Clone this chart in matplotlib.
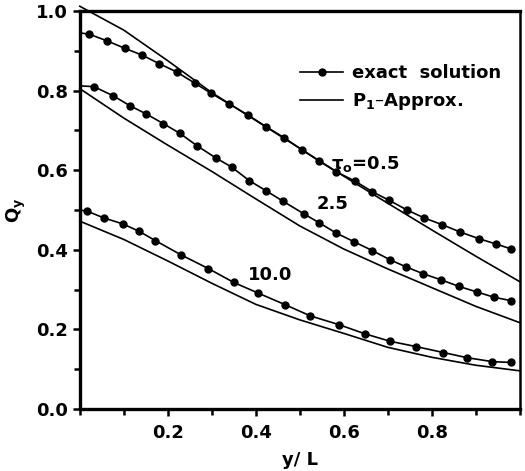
import matplotlib
matplotlib.use("Agg")
import matplotlib.pyplot as plt
from matplotlib.ticker import MultipleLocator, FixedLocator

plt.rcParams['font.family'] = ['DejaVu Sans']
plt.rcParams['font.weight'] = 'bold'
plt.rcParams['mathtext.default'] = 'regular'

# exact solution (first point = line start at wall, no dot)
x_ex05 = [0.0, 0.021, 0.062, 0.103, 0.142, 0.180, 0.220, 0.261, 0.299, 0.339, 0.383, 0.424, 0.464,
          0.504, 0.544, 0.583, 0.625, 0.665, 0.702, 0.744, 0.783, 0.824, 0.864, 0.907, 0.945, 0.981]
y_ex05 = [0.945, 0.942, 0.925, 0.906, 0.889, 0.868, 0.847, 0.819, 0.793, 0.767, 0.738, 0.709, 0.682,
          0.652, 0.623, 0.596, 0.573, 0.546, 0.525, 0.500, 0.480, 0.463, 0.445, 0.428, 0.415, 0.402]

x_ex25 = [0.0, 0.032, 0.076, 0.114, 0.150, 0.190, 0.227, 0.267, 0.309, 0.345, 0.385, 0.424, 0.462,
          0.510, 0.544, 0.583, 0.624, 0.665, 0.705, 0.742, 0.780, 0.820, 0.862, 0.903, 0.941, 0.981]
y_ex25 = [0.812, 0.810, 0.787, 0.762, 0.742, 0.717, 0.693, 0.661, 0.631, 0.608, 0.574, 0.548, 0.522,
          0.490, 0.468, 0.442, 0.420, 0.398, 0.375, 0.357, 0.340, 0.325, 0.308, 0.294, 0.281, 0.272]

x_ex10 = [0.0, 0.017, 0.055, 0.098, 0.134, 0.172, 0.229, 0.292, 0.350, 0.406, 0.467, 0.524, 0.589,
          0.648, 0.706, 0.764, 0.826, 0.880, 0.938, 0.981]
y_ex10 = [0.500, 0.497, 0.480, 0.465, 0.447, 0.423, 0.388, 0.353, 0.318, 0.291, 0.262, 0.234, 0.212,
          0.189, 0.170, 0.157, 0.142, 0.129, 0.119, 0.117]

# P1 approximation
x_p1 = [0.0, 0.1, 0.2, 0.3, 0.4, 0.5, 0.6, 0.7, 0.8, 0.9, 1.0]
y_p1_05 = [1.012, 0.952, 0.875, 0.795, 0.725, 0.655, 0.585, 0.517, 0.450, 0.384, 0.320]
y_p1_25 = [0.805, 0.731, 0.663, 0.597, 0.528, 0.460, 0.402, 0.352, 0.305, 0.258, 0.217]
y_p1_10 = [0.472, 0.426, 0.372, 0.316, 0.263, 0.224, 0.190, 0.155, 0.130, 0.110, 0.096]

curve_labels = [r'$\tau_o$=0.5', '2.5', '10.0']
label_pos = [(0.572, 0.615), (0.539, 0.514), (0.382, 0.337)]

fig = plt.figure(figsize=(5.25, 4.71), dpi=100)
ax = fig.add_axes([0.152, 0.1316, 0.838, 0.845])

lw = 1.2
for xs, ys in [(x_ex05, y_ex05), (x_ex25, y_ex25), (x_ex10, y_ex10)]:
    ax.plot(xs, ys, color='black', lw=lw, marker='o', ms=5, markevery=slice(1, None),
            clip_on=False, zorder=3)
for ys in [y_p1_05, y_p1_25, y_p1_10]:
    ax.plot(x_p1, ys, color='black', lw=lw, clip_on=False, zorder=3)

for lab, (lx, ly) in zip(curve_labels, label_pos):
    ax.text(lx, ly, lab, fontsize=13, fontweight='bold', ha='left', va='center')

ax.plot([], [], color='black', lw=lw, marker='o', ms=5, label='exact  solution')
ax.plot([], [], color='black', lw=lw, label=r'P$_1$–Approx.')
leg = ax.legend(loc='upper left', bbox_to_anchor=(0.48, 0.89), frameon=False,
                handlelength=2.4, handletextpad=0.5, labelspacing=0.5, borderpad=0,
                prop={'weight': 'bold', 'size': 13})

ax.set_xlim(0, 1.0)
ax.set_ylim(0, 1.0)
ax.xaxis.set_major_locator(FixedLocator([0.2, 0.4, 0.6, 0.8]))
ax.xaxis.set_minor_locator(FixedLocator([0.0, 0.1, 0.3, 0.5, 0.7, 0.9, 1.0]))
ax.yaxis.set_major_locator(MultipleLocator(0.2))
ax.yaxis.set_minor_locator(MultipleLocator(0.1))
ax.xaxis.set_major_formatter(plt.FuncFormatter(lambda v, p: f'{v:.1f}'))
ax.yaxis.set_major_formatter(plt.FuncFormatter(lambda v, p: f'{v:.1f}'))
ax.tick_params(which='both', direction='out', width=1.8, labelsize=13)
ax.tick_params(which='major', length=5)
ax.tick_params(which='minor', length=4)
ax.tick_params(axis='x', which='major', pad=6)
for lbl in ax.get_xticklabels() + ax.get_yticklabels():
    lbl.set_fontweight('bold')

for s in ['left', 'bottom', 'top']:
    ax.spines[s].set_linewidth(2.4)
ax.spines['right'].set_linewidth(1.8)

ax.set_xlabel('y/ L', fontsize=13, fontweight='bold', labelpad=6)
ax.set_ylabel(r'Q$_y$', fontsize=13, fontweight='bold', labelpad=6)

fig.savefig('out.png', dpi=100)
